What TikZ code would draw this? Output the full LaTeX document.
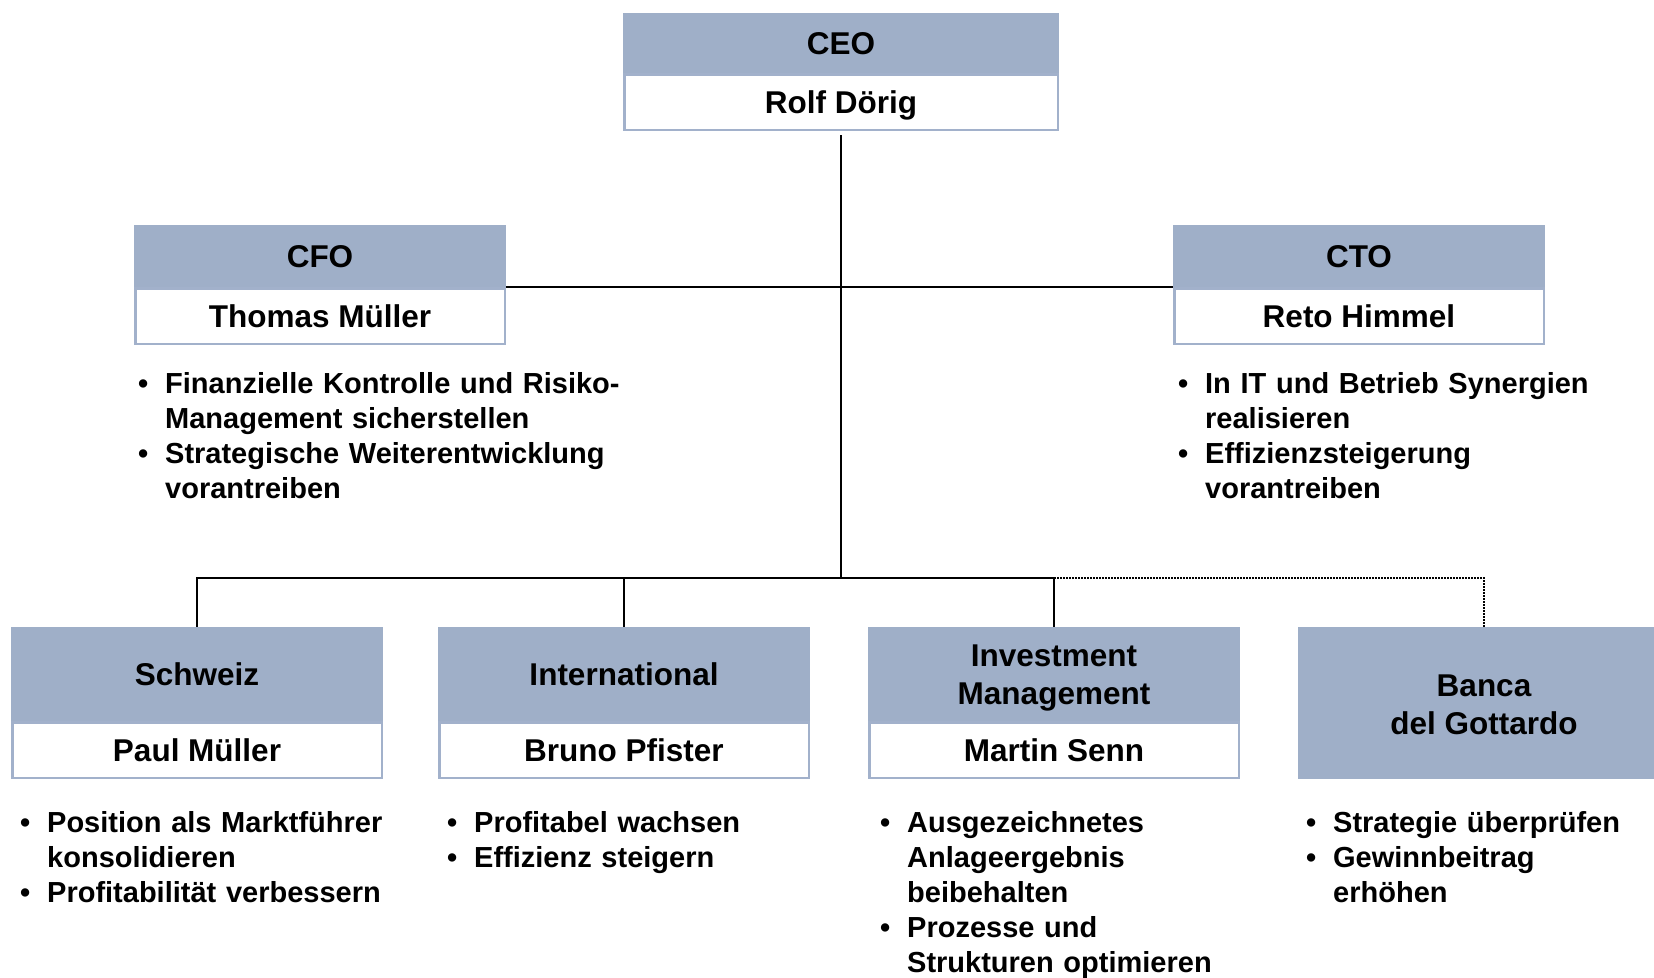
\documentclass[tikz,border=0pt]{standalone}
\usepackage{fontspec}
\setmainfont{Liberation Sans}
\definecolor{hdr}{RGB}{159,175,200}
\definecolor{bord}{RGB}{162,177,203}
\newcommand\myb{\makebox[27pt][l]{\textbullet}}
\newcommand\myi{\hspace*{27pt}}
\begin{document}
\begin{tikzpicture}[x=1pt,y=-1pt,
  hfont/.style={font=\fontsize{31.5}{38}\selectfont\bfseries},
  hd/.style={rectangle, fill=hdr, draw=none, inner sep=0pt, hfont, align=center},
  one/.style={text height=22.5pt, text depth=0pt},
  nm/.style={rectangle, fill=white, draw=bord, line width=2.5pt, inner sep=0pt, hfont, one, minimum height=55.5pt},
  twoline/.style={hfont, align=center, inner sep=0pt},
  conn/.style={line width=2pt, black},
  dotconn/.style={line width=1.5pt, black, dash pattern=on 1.5pt off 1.5pt},
  blist/.style={anchor=base west, inner sep=0pt, text width=520pt, align=left, font=\fontsize{29}{35.2}\selectfont\bfseries}]
\clip (0,0) rectangle (1654,977);
\fill[white] (0,0) rectangle (1654,977);

% CEO
\node[hd, one, minimum width=436pt, minimum height=60pt] (ceoH) at (841,43) {CEO};
\node[nm, minimum width=433.5pt] (ceoN) at (841,102) {Rolf Dörig};
% CFO
\node[hd, one, minimum width=372pt, minimum height=62pt] (cfoH) at (320,256) {CFO};
\node[nm, minimum width=369.5pt] (cfoN) at (320,316) {Thomas Müller};
% CTO
\node[hd, one, minimum width=372pt, minimum height=62pt] (ctoH) at (1359,256) {CTO};
\node[nm, minimum width=369.5pt] (ctoN) at (1359,316) {Reto Himmel};
% Bottom row
\node[hd, one, minimum width=372pt, minimum height=94pt] (schH) at (197,674) {Schweiz};
\node[nm, minimum width=369.5pt] (schN) at (197,750) {Paul Müller};
\node[hd, one, minimum width=372pt, minimum height=94pt] (intH) at (624,674) {International};
\node[nm, minimum width=369.5pt] (intN) at (624,750) {Bruno Pfister};
\node[hd, minimum width=372pt, minimum height=94pt,
  label={[twoline, yshift=-4.2pt]center:Investment\\Management}] (invH) at (1054,674) {};
\node[nm, minimum width=369.5pt] (invN) at (1054,750) {Martin Senn};
\node[hd, minimum width=372pt, minimum height=152pt,
  label={[twoline, yshift=-2pt]center:Banca\\del Gottardo}] (banH) at (1484,703) {};

% Connectors
\coordinate (bus) at (841,578);
\draw[conn, shorten <=4pt] (ceoN.south) -- (bus);
\draw[conn] (cfoH.south east) -- (ctoH.south west);
\draw[conn] (schH.north) |- (bus) -| (invH.north);
\draw[conn] (intH.north) -- (intH.north |- bus);
\draw[dotconn] (invH.north |- bus) -| (banH.north);

% Bullet lists
\node[blist] (cfoL) at (138,393) {\myb Finanzielle Kontrolle und Risiko-\\\myi Management sicherstellen\\\myb Strategische Weiterentwicklung\\\myi vorantreiben};
\node[blist] (ctoL) at (1178,393) {\myb In IT und Betrieb Synergien\\\myi realisieren\\\myb Effizienzsteigerung\\\myi vorantreiben};
\node[blist] (schL) at (20,832) {\myb Position als Marktführer\\\myi konsolidieren\\\myb Profitabilität verbessern};
\node[blist] (intL) at (447,832) {\myb Profitabel wachsen\\\myb Effizienz steigern};
\node[blist] (invL) at (880,832) {\myb Ausgezeichnetes\\\myi Anlageergebnis\\\myi beibehalten\\\myb Prozesse und\\\myi Strukturen optimieren};
\node[blist] (banL) at (1306,832) {\myb Strategie überprüfen\\\myb Gewinnbeitrag\\\myi erhöhen};
\end{tikzpicture}
\end{document}
